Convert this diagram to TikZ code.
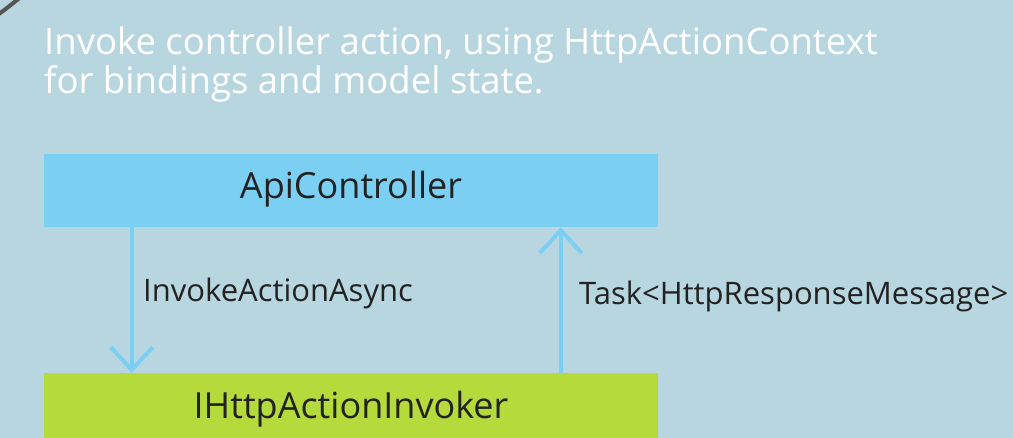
\documentclass[tikz,border=0pt]{standalone}
\usepackage{fontspec}
\setmainfont{Open Sans}
\usetikzlibrary{arrows.meta}
\definecolor{bgcol}{RGB}{184,214,224}
\definecolor{ctrlblue}{RGB}{122,207,242}
\definecolor{invgreen}{RGB}{181,218,59}
\definecolor{inkdark}{RGB}{34,34,34}
\definecolor{rimgray}{RGB}{85,85,85}
\tikzset{
  block/.style={rectangle, inner sep=0pt, minimum width=614pt, minimum height=73pt,
    text height=17pt, text depth=0pt,
    text=inkdark, font=\fontsize{36}{40}\selectfont},
  flow/.style={draw=ctrlblue, line width=4pt,
    -{Straight Barb[length=23pt, width=42pt, line width=4pt]}},
  flowlabel/.style={text=inkdark, inner sep=0pt, anchor=base west,
    font=\fontsize{31}{36}\selectfont},
  heading/.style={text=white, inner sep=0pt, align=left,
    font=\fontsize{36.5}{39}\selectfont}
}
\begin{document}
\begin{tikzpicture}[x=1pt, y=-1pt]
  \useasboundingbox (0,0) rectangle (1013,438);
  \clip (0,0) rectangle (1013,438);
  \fill[bgcol] (0,0) rectangle (1013,438);
  % rounded frame corner at the upper left
  \draw[rimgray, line width=4pt] (22,-4) .. controls (12,4) and (6,9) .. (-4,16);
  % heading (anchored on the baseline of its last line)
  \node[heading, anchor=base west] (title) at (44,94)
    {Invoke controller action, using HttpActionContext\\for bindings and model state.};
  % blocks
  \node[block, fill=ctrlblue] (api) at (351,190.5) {ApiController};
  \node[block, fill=invgreen, anchor=north] (inv) at (351,373) {IHttpActionInvoker};
  % call down, result back up
  \draw[flow] ([xshift=88pt]api.south west) -- ([xshift=88pt]inv.north west);
  \draw[flow] ([xshift=517pt]inv.north west) -- ([xshift=517pt]api.south west);
  \node[flowlabel] (call) at (143,302) {InvokeActionAsync};
  \node[flowlabel] (ret) at (579,305) {Task<HttpResponseMessage>};
\end{tikzpicture}
\end{document}
